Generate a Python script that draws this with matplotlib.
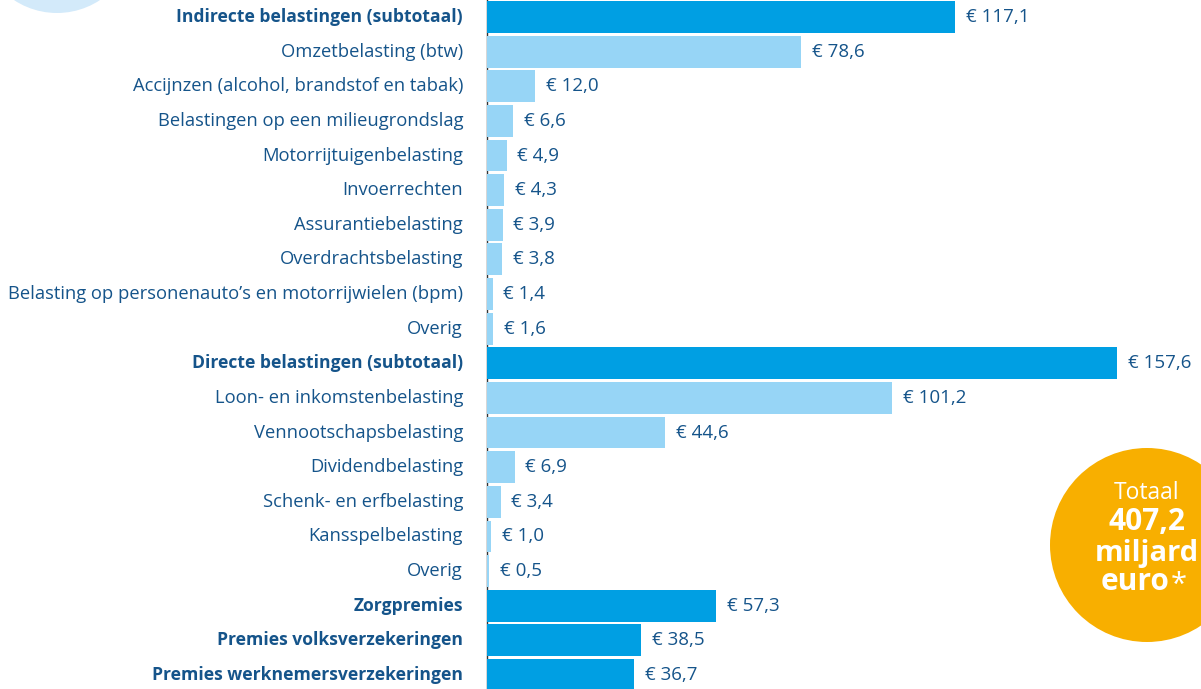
import matplotlib
matplotlib.use("Agg")
import matplotlib.pyplot as plt
from matplotlib.patches import Circle

# belastingontvangsten, miljard euro
categories = [
    "Indirecte belastingen (subtotaal)",
    "Omzetbelasting (btw)",
    "Accijnzen (alcohol, brandstof en tabak)",
    "Belastingen op een milieugrondslag",
    "Motorrijtuigenbelasting",
    "Invoerrechten",
    "Assurantiebelasting",
    "Overdrachtsbelasting",
    "Belasting op personenauto\u2019s en motorrijwielen (bpm)",
    "Overig",
    "Directe belastingen (subtotaal)",
    "Loon- en inkomstenbelasting",
    "Vennootschapsbelasting",
    "Dividendbelasting",
    "Schenk- en erfbelasting",
    "Kansspelbelasting",
    "Overig",
    "Zorgpremies",
    "Premies volksverzekeringen",
    "Premies werknemersverzekeringen",
]
values = [117.1, 78.6, 12.0, 6.6, 4.9, 4.3, 3.9, 3.8, 1.4, 1.6,
          157.6, 101.2, 44.6, 6.9, 3.4, 1.0, 0.5,
          57.3, 38.5, 36.7]
is_total = [True] + [False]*9 + [True] + [False]*6 + [True]*3
total_text = ["Totaal", "407,2", "miljard", "euro"]

dark = "#009FE3"
light = "#97D5F6"
txt = "#15548A"
orange = "#F8AF00"

plt.rcParams['font.family'] = ['Open Sans', 'DejaVu Sans']

W, H = 1201, 689
fig = plt.figure(figsize=(W/100, H/100), dpi=100)

# background decorations in pixel coords
bg = fig.add_axes([0, 0, 1, 1])
bg.set_xlim(0, W)
bg.set_ylim(H, 0)
bg.axis('off')
bg.add_patch(Circle((57, -65), 78, color="#D3EAFA", lw=0))
bg.add_patch(Circle((1147, 545), 97, color=orange, lw=0))
cx = 1147
bg.text(cx, 493, total_text[0], color="white", fontsize=16.5, ha="center", va="center")
bg.text(cx, 522, total_text[1], color="white", fontsize=21.5, fontweight="bold", ha="center", va="center")
bg.text(cx, 553, total_text[2], color="white", fontsize=21, fontweight="bold", ha="center", va="center")
bg.text(1170, 582, total_text[3], color="white", fontsize=21.5, fontweight="bold", ha="right", va="center")
bg.text(1171, 585, "*", color="white", fontsize=21, ha="left", va="center")

left = 487
ax = fig.add_axes([left/W, 0, 1 - left/W, 1])
ax.patch.set_alpha(0)
row = 34.63
y = list(range(len(values)))
colors = [dark if t else light for t in is_total]
ax.barh(y, values, height=0.92, color=colors, zorder=2)
ax.set_xlim(0, (W - left)/4.0)
ax.set_ylim((H - 17)/row, -17/row)

for i, (v, t) in enumerate(zip(values, is_total)):
    ax.text(v + 2.7, i, "\u20ac " + f"{v:.1f}".replace(".", ","), color=txt,
            fontsize=13.5, va="center", ha="left")
    if t:
        ax.text(-6, i, categories[i], color=txt, fontsize=12.6, va="center", ha="right",
                fontweight="bold")
    else:
        ax.text(-6, i, categories[i], color=txt, fontsize=13.2, va="center", ha="right")

for s in ["top", "right", "bottom"]:
    ax.spines[s].set_visible(False)
ax.spines["left"].set_color("#333333")
ax.spines["left"].set_linewidth(1)
ax.spines["left"].set_zorder(1)
ax.set_xticks([])
ax.set_yticks([])

fig.savefig("out.png", dpi=100)
